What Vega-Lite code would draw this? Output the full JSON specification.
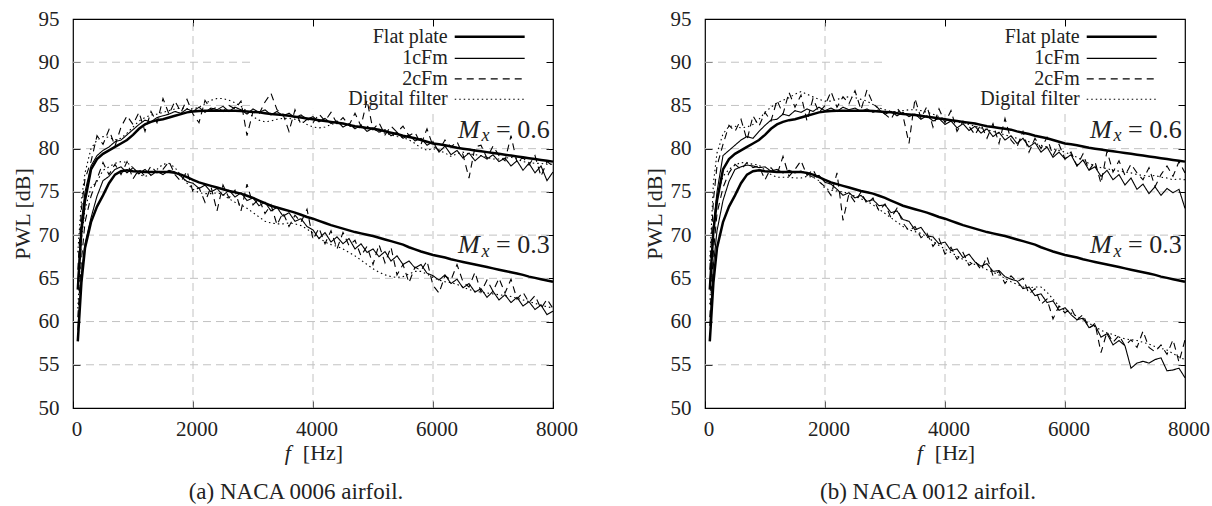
{
"$schema": "https://vega.github.io/schema/vega-lite/v6.json",
"background": "white",
"padding": {"left": 10, "top": 7, "right": 5, "bottom": 5},
"bounds": "flush",
"spacing": 152,
"config": {
  "font": "Liberation Serif",
  "view": {"stroke": "#000", "strokeWidth": 1.2},
  "axis": {"labelFont": "Liberation Serif", "labelFontSize": 21, "labelColor": "#222", "titleFont": "Liberation Serif", "titleFontSize": 22, "titleFontWeight": "normal", "titleColor": "#222", "grid": false, "domain": false, "tickColor": "#000", "tickWidth": 1, "tickSize": -7, "labelFlush": false, "labelOverlap": false, "format": "d"}
},
"datasets": {
"grid": [
{"x1":0,"x2":8000,"y1":55,"y2":55},{"x1":0,"x2":8000,"y1":60,"y2":60},{"x1":0,"x2":8000,"y1":65,"y2":65},{"x1":0,"x2":8000,"y1":70,"y2":70},{"x1":0,"x2":8000,"y1":75,"y2":75},{"x1":0,"x2":8000,"y1":80,"y2":80},{"x1":0,"x2":3000,"y1":85,"y2":85},{"x1":0,"x2":3000,"y1":90,"y2":90},
{"x1":2000,"x2":2000,"y1":50,"y2":95},{"x1":4000,"x2":4000,"y1":50,"y2":84.6},{"x1":6000,"x2":6000,"y1":50,"y2":84.6}
],
"a": [
{"f":80,"t6":63.7,"s6":64.5,"d6":66,"o6":68,"t3":57.7,"s3":59,"d3":60.5,"o3":61.5},
{"f":140,"t6":70.5,"s6":71.5,"d6":73,"o6":74,"t3":64.5,"s3":65.5,"d3":67,"o3":69.5},
{"f":200,"t6":74.0,"s6":75.0,"d6":76.5,"o6":77.2,"t3":68.5,"s3":69,"d3":71.5,"o3":73},
{"f":300,"t6":77.6,"s6":78.0,"d6":78.5,"o6":80.0,"t3":71.5,"s3":72,"d3":74.5,"o3":75.5},
{"f":400,"t6":78.8,"s6":79.2,"d6":81.5,"o6":81.0,"t3":73.3,"s3":74.5,"d3":76.5,"o3":76.2},
{"f":500,"t6":79.4,"s6":79.8,"d6":80.5,"o6":81.4,"t3":74.6,"s3":76.3,"d3":78.4,"o3":77.5},
{"f":600,"t6":79.8,"s6":80.2,"d6":82.2,"o6":81.3,"t3":76.0,"s3":76.8,"d3":77.0,"o3":77.9},
{"f":700,"t6":80.2,"s6":80.8,"d6":80.3,"o6":81.0,"t3":77.0,"s3":77.6,"d3":78.2,"o3":78.3},
{"f":800,"t6":80.6,"s6":81.0,"d6":82.5,"o6":81.2,"t3":77.4,"s3":77.9,"d3":77.0,"o3":78.5},
{"f":900,"t6":81.0,"s6":81.6,"d6":83.8,"o6":81.8,"t3":77.5,"s3":77.2,"d3":78.5,"o3":78.4},
{"f":1000,"t6":81.6,"s6":82.2,"d6":82.8,"o6":82.5,"t3":77.4,"s3":77.8,"d3":76.5,"o3":77.8},
{"f":1100,"t6":82.3,"s6":82.8,"d6":84.2,"o6":83.2,"t3":77.35,"s3":77.1,"d3":77.6,"o3":77.0},
{"f":1200,"t6":82.8,"s6":83.3,"d6":82.0,"o6":83.6,"t3":77.3,"s3":77.6,"d3":76.8,"o3":76.8},
{"f":1300,"t6":83.1,"s6":83.1,"d6":84.3,"o6":83.9,"t3":77.3,"s3":76.9,"d3":78.0,"o3":77.0},
{"f":1400,"t6":83.3,"s6":83.6,"d6":83.0,"o6":84.0,"t3":77.3,"s3":77.4,"d3":77.2,"o3":77.6},
{"f":1500,"t6":83.4,"s6":83.8,"d6":85.8,"o6":84.2,"t3":77.3,"s3":77.0,"d3":77.6,"o3":78.2},
{"f":1600,"t6":83.6,"s6":84.0,"d6":84.0,"o6":84.4,"t3":77.3,"s3":77.5,"d3":78.5,"o3":78.3},
{"f":1700,"t6":83.8,"s6":84.3,"d6":85.5,"o6":84.6,"t3":77.2,"s3":77.3,"d3":77.0,"o3":77.8},
{"f":1800,"t6":84.0,"s6":84.1,"d6":84.2,"o6":84.7,"t3":77.0,"s3":76.8,"d3":76.2,"o3":76.9},
{"f":1900,"t6":84.2,"s6":84.6,"d6":85.7,"o6":84.6,"t3":76.7,"s3":76.2,"d3":77.4,"o3":76.0},
{"f":2000,"t6":84.3,"s6":84.3,"d6":84.0,"o6":84.6,"t3":76.4,"s3":76.0,"d3":75.0,"o3":75.3},
{"f":2100,"t6":84.35,"s6":84.8,"d6":83.0,"o6":84.8,"t3":76.1,"s3":75.4,"d3":75.5,"o3":74.9},
{"f":2200,"t6":84.4,"s6":84.2,"d6":85.6,"o6":85.2,"t3":75.9,"s3":75.8,"d3":73.8,"o3":74.8},
{"f":2300,"t6":84.4,"s6":84.7,"d6":84.5,"o6":85.6,"t3":75.7,"s3":75.0,"d3":75.6,"o3":74.8},
{"f":2400,"t6":84.4,"s6":84.5,"d6":84.8,"o6":85.8,"t3":75.5,"s3":75.4,"d3":72.8,"o3":74.9},
{"f":2500,"t6":84.4,"s6":84.9,"d6":84.3,"o6":85.8,"t3":75.3,"s3":74.6,"d3":75.8,"o3":74.7},
{"f":2600,"t6":84.4,"s6":84.3,"d6":85.0,"o6":85.6,"t3":75.1,"s3":75.2,"d3":74.3,"o3":74.2},
{"f":2700,"t6":84.4,"s6":84.8,"d6":84.6,"o6":85.3,"t3":74.95,"s3":74.4,"d3":75.2,"o3":73.8},
{"f":2800,"t6":84.35,"s6":84.5,"d6":85.5,"o6":84.9,"t3":74.8,"s3":74.9,"d3":72.8,"o3":73.5},
{"f":2900,"t6":84.3,"s6":84.0,"d6":81.5,"o6":84.3,"t3":74.55,"s3":74.0,"d3":75.9,"o3":73.1},
{"f":3000,"t6":84.25,"s6":84.6,"d6":84.3,"o6":83.7,"t3":74.3,"s3":74.3,"d3":73.5,"o3":72.6},
{"f":3100,"t6":84.2,"s6":84.2,"d6":84.0,"o6":83.3,"t3":74.0,"s3":73.4,"d3":74.2,"o3":72.1},
{"f":3200,"t6":84.1,"s6":84.5,"d6":85.4,"o6":83.1,"t3":73.7,"s3":73.8,"d3":72.5,"o3":71.6},
{"f":3300,"t6":84.0,"s6":83.9,"d6":86.4,"o6":83.2,"t3":73.4,"s3":72.8,"d3":73.5,"o3":71.4},
{"f":3400,"t6":83.95,"s6":84.3,"d6":84.5,"o6":83.4,"t3":73.2,"s3":73.2,"d3":71.2,"o3":71.3},
{"f":3500,"t6":83.9,"s6":83.8,"d6":84.0,"o6":83.5,"t3":73.0,"s3":72.2,"d3":72.6,"o3":71.3},
{"f":3600,"t6":83.8,"s6":84.1,"d6":82.0,"o6":83.5,"t3":72.8,"s3":72.6,"d3":71.0,"o3":71.4},
{"f":3700,"t6":83.7,"s6":83.6,"d6":84.5,"o6":83.4,"t3":72.6,"s3":71.6,"d3":72.3,"o3":71.3},
{"f":3800,"t6":83.6,"s6":83.9,"d6":82.8,"o6":83.2,"t3":72.35,"s3":71.9,"d3":71.5,"o3":71.1},
{"f":3900,"t6":83.5,"s6":83.4,"d6":83.4,"o6":82.8,"t3":72.1,"s3":71.0,"d3":73.0,"o3":70.7},
{"f":4000,"t6":83.4,"s6":83.7,"d6":83.0,"o6":82.5,"t3":71.9,"s3":70.6,"d3":69.5,"o3":70.2},
{"f":4100,"t6":83.3,"s6":83.1,"d6":84.0,"o6":82.4,"t3":71.65,"s3":69.6,"d3":70.8,"o3":69.7},
{"f":4200,"t6":83.2,"s6":83.5,"d6":83.2,"o6":82.5,"t3":71.4,"s3":70.3,"d3":69.0,"o3":69.2},
{"f":4300,"t6":83.1,"s6":82.9,"d6":84.2,"o6":82.8,"t3":71.15,"s3":69.2,"d3":70.5,"o3":68.9},
{"f":4400,"t6":83.0,"s6":83.2,"d6":82.9,"o6":83.0,"t3":70.95,"s3":69.8,"d3":68.4,"o3":68.7},
{"f":4500,"t6":82.9,"s6":82.5,"d6":83.6,"o6":82.8,"t3":70.75,"s3":69.0,"d3":70.3,"o3":68.4},
{"f":4600,"t6":82.75,"s6":82.9,"d6":82.7,"o6":82.6,"t3":70.55,"s3":69.6,"d3":68.8,"o3":68.0},
{"f":4700,"t6":82.6,"s6":82.3,"d6":84.1,"o6":82.5,"t3":70.35,"s3":68.4,"d3":69.4,"o3":67.6},
{"f":4800,"t6":82.5,"s6":82.7,"d6":82.6,"o6":82.4,"t3":70.2,"s3":69.0,"d3":67.6,"o3":67.1},
{"f":4900,"t6":82.4,"s6":82.0,"d6":85.6,"o6":82.6,"t3":70.05,"s3":68.0,"d3":68.7,"o3":66.6},
{"f":5000,"t6":82.3,"s6":82.4,"d6":82.2,"o6":82.3,"t3":69.9,"s3":68.4,"d3":66.6,"o3":66.1},
{"f":5100,"t6":82.2,"s6":81.9,"d6":83.0,"o6":82.0,"t3":69.7,"s3":67.5,"d3":68.9,"o3":65.7},
{"f":5200,"t6":82.0,"s6":82.2,"d6":81.6,"o6":81.8,"t3":69.5,"s3":68.1,"d3":66.8,"o3":65.4},
{"f":5300,"t6":81.85,"s6":81.5,"d6":82.6,"o6":81.6,"t3":69.3,"s3":67.0,"d3":68.6,"o3":65.2},
{"f":5400,"t6":81.7,"s6":81.9,"d6":81.9,"o6":81.4,"t3":69.1,"s3":67.6,"d3":65.4,"o3":65.1},
{"f":5500,"t6":81.5,"s6":81.2,"d6":82.6,"o6":81.3,"t3":68.9,"s3":66.6,"d3":66.6,"o3":65.2},
{"f":5600,"t6":81.35,"s6":81.6,"d6":81.5,"o6":81.0,"t3":68.6,"s3":67.0,"d3":64.5,"o3":65.5},
{"f":5700,"t6":81.2,"s6":80.9,"d6":81.9,"o6":80.6,"t3":68.35,"s3":66.2,"d3":66.3,"o3":65.8},
{"f":5800,"t6":81.0,"s6":81.2,"d6":80.5,"o6":80.1,"t3":68.1,"s3":66.6,"d3":65.9,"o3":65.8},
{"f":5900,"t6":80.8,"s6":80.4,"d6":82.3,"o6":79.8,"t3":67.9,"s3":65.6,"d3":67.0,"o3":65.5},
{"f":6000,"t6":80.6,"s6":80.8,"d6":80.3,"o6":80.0,"t3":67.7,"s3":65.3,"d3":64.2,"o3":65.1},
{"f":6100,"t6":80.5,"s6":79.6,"d6":79.8,"o6":79.8,"t3":67.55,"s3":64.8,"d3":63.3,"o3":64.8},
{"f":6200,"t6":80.4,"s6":80.3,"d6":81.0,"o6":79.5,"t3":67.4,"s3":65.4,"d3":65.3,"o3":64.6},
{"f":6300,"t6":80.25,"s6":79.3,"d6":80.2,"o6":79.1,"t3":67.2,"s3":64.4,"d3":64.8,"o3":64.5},
{"f":6400,"t6":80.1,"s6":79.8,"d6":80.8,"o6":79.4,"t3":67.05,"s3":64.9,"d3":66.6,"o3":64.3},
{"f":6500,"t6":80.0,"s6":78.9,"d6":79.3,"o6":79.6,"t3":66.9,"s3":63.9,"d3":64.6,"o3":64.0},
{"f":6600,"t6":79.9,"s6":79.5,"d6":76.6,"o6":79.4,"t3":66.75,"s3":64.4,"d3":64.0,"o3":63.7},
{"f":6700,"t6":79.8,"s6":78.6,"d6":80.2,"o6":79.3,"t3":66.6,"s3":63.4,"d3":65.7,"o3":63.5},
{"f":6800,"t6":79.7,"s6":79.2,"d6":80.4,"o6":79.2,"t3":66.45,"s3":63.8,"d3":63.4,"o3":63.4},
{"f":6900,"t6":79.6,"s6":78.8,"d6":78.9,"o6":79.0,"t3":66.3,"s3":62.8,"d3":64.8,"o3":63.3},
{"f":7000,"t6":79.5,"s6":79.3,"d6":80.3,"o6":78.8,"t3":66.15,"s3":63.5,"d3":63.5,"o3":63.2},
{"f":7100,"t6":79.4,"s6":78.5,"d6":79.2,"o6":78.8,"t3":66.0,"s3":62.5,"d3":65.0,"o3":63.1},
{"f":7200,"t6":79.3,"s6":78.9,"d6":78.6,"o6":78.9,"t3":65.85,"s3":63.1,"d3":63.3,"o3":63.0},
{"f":7300,"t6":79.2,"s6":78.0,"d6":81.5,"o6":79.0,"t3":65.7,"s3":62.2,"d3":64.9,"o3":62.9},
{"f":7400,"t6":79.1,"s6":78.6,"d6":78.4,"o6":78.8,"t3":65.55,"s3":62.8,"d3":62.6,"o3":62.7},
{"f":7500,"t6":79.0,"s6":77.5,"d6":79.0,"o6":78.5,"t3":65.4,"s3":61.8,"d3":63.4,"o3":62.5},
{"f":7600,"t6":78.9,"s6":78.3,"d6":78.1,"o6":78.4,"t3":65.2,"s3":62.3,"d3":62.2,"o3":62.3},
{"f":7700,"t6":78.8,"s6":77.2,"d6":79.2,"o6":78.3,"t3":65.05,"s3":61.4,"d3":63.0,"o3":62.1},
{"f":7800,"t6":78.7,"s6":78.0,"d6":76.8,"o6":78.3,"t3":64.9,"s3":61.9,"d3":61.5,"o3":61.9},
{"f":7900,"t6":78.6,"s6":76.3,"d6":78.5,"o6":78.2,"t3":64.75,"s3":60.8,"d3":62.6,"o3":61.7},
{"f":8000,"t6":78.5,"s6":77.3,"d6":78.0,"o6":78.2,"t3":64.6,"s3":61.2,"d3":61.5,"o3":61.6}
],
"b": [
{"f":80,"t6":63.7,"s6":64,"d6":66,"o6":67,"t3":57.7,"s3":59.5,"d3":60.5,"o3":62},
{"f":140,"t6":70.5,"s6":71,"d6":74,"o6":76,"t3":64.5,"s3":66.5,"d3":68,"o3":71},
{"f":200,"t6":74.0,"s6":75,"d6":78,"o6":79.5,"t3":68.5,"s3":70.5,"d3":72.5,"o3":74.5},
{"f":300,"t6":77.6,"s6":79.2,"d6":80.5,"o6":81.7,"t3":71.5,"s3":74.0,"d3":75.5,"o3":76.8},
{"f":400,"t6":78.8,"s6":79.8,"d6":82.7,"o6":82.6,"t3":73.3,"s3":76.2,"d3":77.2,"o3":77.6},
{"f":500,"t6":79.4,"s6":80.4,"d6":82.0,"o6":82.6,"t3":74.6,"s3":77.6,"d3":78.2,"o3":78.1},
{"f":600,"t6":79.8,"s6":81.0,"d6":83.4,"o6":82.4,"t3":76.0,"s3":77.9,"d3":77.6,"o3":78.4},
{"f":700,"t6":80.2,"s6":81.4,"d6":81.0,"o6":82.5,"t3":77.0,"s3":78.1,"d3":78.4,"o3":78.3},
{"f":800,"t6":80.6,"s6":81.2,"d6":83.8,"o6":82.8,"t3":77.4,"s3":78.0,"d3":77.8,"o3":78.2},
{"f":900,"t6":81.0,"s6":82.0,"d6":82.6,"o6":83.4,"t3":77.5,"s3":77.8,"d3":78.0,"o3":78.1},
{"f":1000,"t6":81.6,"s6":82.7,"d6":84.2,"o6":84.2,"t3":77.4,"s3":77.9,"d3":76.4,"o3":77.5},
{"f":1100,"t6":82.3,"s6":83.3,"d6":83.2,"o6":84.8,"t3":77.35,"s3":77.4,"d3":77.8,"o3":77.0},
{"f":1200,"t6":82.8,"s6":83.4,"d6":85.6,"o6":85.3,"t3":77.3,"s3":77.6,"d3":77.0,"o3":76.7},
{"f":1300,"t6":83.1,"s6":84.0,"d6":84.0,"o6":85.6,"t3":77.3,"s3":77.2,"d3":79.1,"o3":76.7},
{"f":1400,"t6":83.3,"s6":83.8,"d6":86.5,"o6":85.9,"t3":77.3,"s3":77.5,"d3":76.8,"o3":76.7},
{"f":1500,"t6":83.4,"s6":84.4,"d6":84.8,"o6":86.3,"t3":77.3,"s3":77.2,"d3":77.6,"o3":76.6},
{"f":1600,"t6":83.6,"s6":84.2,"d6":86.2,"o6":86.6,"t3":77.3,"s3":77.4,"d3":78.6,"o3":76.6},
{"f":1700,"t6":83.8,"s6":84.6,"d6":83.2,"o6":86.3,"t3":77.2,"s3":77.1,"d3":76.9,"o3":76.8},
{"f":1800,"t6":84.0,"s6":84.3,"d6":85.8,"o6":86.0,"t3":77.0,"s3":76.7,"d3":77.6,"o3":76.7},
{"f":1900,"t6":84.2,"s6":84.8,"d6":84.2,"o6":85.7,"t3":76.7,"s3":76.9,"d3":76.2,"o3":76.3},
{"f":2000,"t6":84.3,"s6":84.4,"d6":85.0,"o6":85.5,"t3":76.4,"s3":76.1,"d3":75.6,"o3":75.4},
{"f":2100,"t6":84.35,"s6":84.7,"d6":86.6,"o6":85.5,"t3":76.1,"s3":75.9,"d3":74.6,"o3":75.2},
{"f":2200,"t6":84.4,"s6":84.3,"d6":84.8,"o6":85.7,"t3":75.9,"s3":75.3,"d3":77.2,"o3":75.1},
{"f":2300,"t6":84.4,"s6":84.8,"d6":86.0,"o6":85.9,"t3":75.7,"s3":74.6,"d3":71.7,"o3":75.0},
{"f":2400,"t6":84.4,"s6":84.5,"d6":85.2,"o6":86.0,"t3":75.5,"s3":74.9,"d3":74.8,"o3":74.8},
{"f":2500,"t6":84.4,"s6":84.7,"d6":86.7,"o6":85.9,"t3":75.3,"s3":74.3,"d3":73.8,"o3":74.5},
{"f":2600,"t6":84.4,"s6":84.3,"d6":84.5,"o6":85.7,"t3":75.1,"s3":74.6,"d3":75.0,"o3":74.2},
{"f":2700,"t6":84.4,"s6":84.6,"d6":86.8,"o6":85.5,"t3":74.95,"s3":73.9,"d3":73.6,"o3":73.9},
{"f":2800,"t6":84.35,"s6":84.2,"d6":85.2,"o6":85.1,"t3":74.8,"s3":74.1,"d3":74.3,"o3":73.5},
{"f":2900,"t6":84.3,"s6":84.5,"d6":84.6,"o6":84.7,"t3":74.55,"s3":73.4,"d3":72.8,"o3":73.0},
{"f":3000,"t6":84.25,"s6":84.0,"d6":84.0,"o6":84.5,"t3":74.3,"s3":73.5,"d3":73.6,"o3":72.5},
{"f":3100,"t6":84.2,"s6":84.3,"d6":83.4,"o6":84.3,"t3":74.0,"s3":72.6,"d3":72.0,"o3":72.0},
{"f":3200,"t6":84.1,"s6":83.8,"d6":84.7,"o6":84.3,"t3":73.7,"s3":72.8,"d3":73.1,"o3":71.5},
{"f":3300,"t6":84.0,"s6":84.2,"d6":83.8,"o6":84.4,"t3":73.4,"s3":71.8,"d3":71.4,"o3":71.0},
{"f":3400,"t6":83.95,"s6":83.7,"d6":80.6,"o6":84.5,"t3":73.2,"s3":71.6,"d3":70.5,"o3":70.6},
{"f":3500,"t6":83.9,"s6":84.0,"d6":85.8,"o6":84.5,"t3":73.0,"s3":70.6,"d3":71.0,"o3":70.4},
{"f":3600,"t6":83.8,"s6":83.4,"d6":83.5,"o6":84.4,"t3":72.8,"s3":70.9,"d3":69.7,"o3":70.2},
{"f":3700,"t6":83.7,"s6":83.8,"d6":84.9,"o6":84.2,"t3":72.6,"s3":69.9,"d3":70.2,"o3":69.8},
{"f":3800,"t6":83.6,"s6":83.2,"d6":82.5,"o6":84.0,"t3":72.35,"s3":69.8,"d3":68.7,"o3":69.3},
{"f":3900,"t6":83.5,"s6":83.5,"d6":84.6,"o6":83.7,"t3":72.1,"s3":69.0,"d3":69.6,"o3":68.8},
{"f":4000,"t6":83.4,"s6":82.8,"d6":83.0,"o6":83.4,"t3":71.9,"s3":69.2,"d3":67.8,"o3":68.4},
{"f":4100,"t6":83.3,"s6":83.2,"d6":84.4,"o6":83.2,"t3":71.65,"s3":68.2,"d3":68.6,"o3":68.0},
{"f":4200,"t6":83.2,"s6":82.4,"d6":82.0,"o6":83.1,"t3":71.4,"s3":68.4,"d3":67.2,"o3":67.6},
{"f":4300,"t6":83.1,"s6":82.9,"d6":83.2,"o6":83.0,"t3":71.15,"s3":67.4,"d3":68.0,"o3":67.2},
{"f":4400,"t6":83.0,"s6":82.1,"d6":82.6,"o6":82.8,"t3":70.95,"s3":67.8,"d3":66.5,"o3":66.9},
{"f":4500,"t6":82.9,"s6":82.6,"d6":81.6,"o6":82.6,"t3":70.75,"s3":66.9,"d3":67.0,"o3":66.6},
{"f":4600,"t6":82.75,"s6":81.8,"d6":82.8,"o6":82.4,"t3":70.55,"s3":66.4,"d3":66.0,"o3":66.3},
{"f":4700,"t6":82.6,"s6":82.3,"d6":81.2,"o6":82.2,"t3":70.35,"s3":66.7,"d3":67.5,"o3":66.0},
{"f":4800,"t6":82.5,"s6":81.4,"d6":82.9,"o6":82.0,"t3":70.2,"s3":65.8,"d3":65.3,"o3":65.7},
{"f":4900,"t6":82.4,"s6":81.9,"d6":80.6,"o6":81.8,"t3":70.05,"s3":65.9,"d3":65.8,"o3":65.4},
{"f":5000,"t6":82.3,"s6":81.0,"d6":83.5,"o6":81.6,"t3":69.9,"s3":65.2,"d3":64.4,"o3":65.0},
{"f":5100,"t6":82.2,"s6":81.5,"d6":81.0,"o6":81.4,"t3":69.7,"s3":64.9,"d3":65.3,"o3":64.6},
{"f":5200,"t6":82.0,"s6":80.6,"d6":80.2,"o6":81.2,"t3":69.5,"s3":64.7,"d3":64.6,"o3":64.3},
{"f":5300,"t6":81.85,"s6":81.2,"d6":82.0,"o6":81.0,"t3":69.3,"s3":63.8,"d3":65.0,"o3":64.0},
{"f":5400,"t6":81.7,"s6":80.2,"d6":79.6,"o6":80.8,"t3":69.1,"s3":64.0,"d3":63.2,"o3":63.9},
{"f":5500,"t6":81.5,"s6":80.7,"d6":81.2,"o6":80.6,"t3":68.9,"s3":63.0,"d3":63.8,"o3":64.0},
{"f":5600,"t6":81.35,"s6":79.6,"d6":80.0,"o6":80.4,"t3":68.6,"s3":63.2,"d3":62.0,"o3":64.0},
{"f":5700,"t6":81.2,"s6":80.2,"d6":81.3,"o6":80.2,"t3":68.35,"s3":62.2,"d3":62.6,"o3":63.4},
{"f":5800,"t6":81.0,"s6":79.0,"d6":79.2,"o6":80.0,"t3":68.1,"s3":62.4,"d3":60.3,"o3":62.6},
{"f":5900,"t6":80.8,"s6":79.6,"d6":80.5,"o6":79.8,"t3":67.9,"s3":61.3,"d3":61.8,"o3":61.8},
{"f":6000,"t6":80.6,"s6":78.8,"d6":78.8,"o6":79.6,"t3":67.7,"s3":61.6,"d3":61.0,"o3":61.3},
{"f":6100,"t6":80.5,"s6":79.3,"d6":79.6,"o6":79.3,"t3":67.55,"s3":60.8,"d3":61.6,"o3":61.0},
{"f":6200,"t6":80.4,"s6":78.0,"d6":78.0,"o6":79.0,"t3":67.4,"s3":60.2,"d3":60.2,"o3":60.6},
{"f":6300,"t6":80.25,"s6":78.7,"d6":79.4,"o6":78.6,"t3":67.2,"s3":60.4,"d3":60.8,"o3":60.2},
{"f":6400,"t6":80.1,"s6":77.5,"d6":77.5,"o6":78.3,"t3":67.05,"s3":59.3,"d3":59.2,"o3":59.8},
{"f":6500,"t6":80.0,"s6":77.9,"d6":78.5,"o6":78.0,"t3":66.9,"s3":59.6,"d3":59.8,"o3":59.4},
{"f":6600,"t6":79.9,"s6":76.8,"d6":76.0,"o6":77.8,"t3":66.75,"s3":58.2,"d3":56.4,"o3":59.0},
{"f":6700,"t6":79.8,"s6":77.5,"d6":79.7,"o6":77.7,"t3":66.6,"s3":58.6,"d3":58.8,"o3":58.7},
{"f":6800,"t6":79.7,"s6":76.4,"d6":77.3,"o6":77.5,"t3":66.45,"s3":57.3,"d3":57.6,"o3":58.5},
{"f":6900,"t6":79.6,"s6":77.0,"d6":78.6,"o6":77.4,"t3":66.3,"s3":57.8,"d3":58.4,"o3":58.2},
{"f":7000,"t6":79.5,"s6":75.8,"d6":76.9,"o6":77.3,"t3":66.15,"s3":57.2,"d3":57.2,"o3":58.0},
{"f":7100,"t6":79.4,"s6":76.6,"d6":78.2,"o6":77.2,"t3":66.0,"s3":54.6,"d3":57.9,"o3":57.9},
{"f":7200,"t6":79.3,"s6":75.3,"d6":77.2,"o6":77.0,"t3":65.85,"s3":55.2,"d3":57.0,"o3":57.8},
{"f":7300,"t6":79.2,"s6":75.9,"d6":76.4,"o6":76.9,"t3":65.7,"s3":55.4,"d3":58.9,"o3":57.6},
{"f":7400,"t6":79.1,"s6":74.8,"d6":77.8,"o6":76.8,"t3":65.55,"s3":55.2,"d3":57.0,"o3":57.4},
{"f":7500,"t6":79.0,"s6":75.6,"d6":75.6,"o6":76.9,"t3":65.4,"s3":55.6,"d3":56.5,"o3":57.1},
{"f":7600,"t6":78.9,"s6":74.6,"d6":77.0,"o6":76.7,"t3":65.2,"s3":55.8,"d3":57.3,"o3":56.9},
{"f":7700,"t6":78.8,"s6":75.4,"d6":78.0,"o6":76.6,"t3":65.05,"s3":54.3,"d3":56.2,"o3":56.7},
{"f":7800,"t6":78.7,"s6":74.9,"d6":76.8,"o6":76.4,"t3":64.9,"s3":54.4,"d3":57.9,"o3":56.3},
{"f":7900,"t6":78.6,"s6":75.3,"d6":78.5,"o6":76.5,"t3":64.75,"s3":54.6,"d3":55.3,"o3":55.9},
{"f":8000,"t6":78.5,"s6":73.1,"d6":77.2,"o6":76.4,"t3":64.6,"s3":53.5,"d3":57.9,"o3":55.6}
],
"legText": [
{"f":6245,"v":92.96,"t":"Flat plate"},{"f":6245,"v":90.45,"t":"1cFm"},{"f":6245,"v":88.07,"t":"2cFm"},{"f":6245,"v":85.71,"t":"Digital filter"}
],
"legThick": [{"x1":6362,"x2":7528,"v":92.96,"key":"t6"}],
"legThin": [
{"x1":6362,"x2":7528,"v":90.45,"key":"s6"},{"x1":6362,"x2":7528,"v":88.07,"key":"d6"},{"x1":6362,"x2":7528,"v":85.71,"key":"o6"}
],
"machM": [{"f":6417,"v":82.2},{"f":6417,"v":68.85}],
"machX": [{"f":6807,"v":81.45},{"f":6807,"v":68.1}],
"machV": [{"f":7945,"v":82.2,"t":"= 0.6"},{"f":7945,"v":68.85,"t":"= 0.3"}],
"xtF": [{"f":3580,"v":44.78}],
"xtHz": [{"f":3830,"v":44.78}]
},
"hconcat": [
{
 "width": 480, "height": 389,
 "title": {"text": "(a) NACA 0006 airfoil.", "orient": "bottom", "anchor": "middle", "frame": "group", "dx": -17, "offset": 17, "fontSize": 23, "font": "Liberation Serif", "fontWeight": "normal", "color": "#222"},
 "resolve": {"axis": {"x": "independent", "y": "independent"}},
 "layer": [
  {"data": {"name": "grid"}, "mark": {"type": "rule", "color": "#c2c2c2", "strokeWidth": 1, "strokeDash": [8, 5]},
   "encoding": {"x": {"field": "x1", "type": "quantitative", "scale": {"domain": [0, 8000]}, "axis": null}, "x2": {"field": "x2"}, "y": {"field": "y1", "type": "quantitative", "scale": {"domain": [50, 95]}, "axis": null}, "y2": {"field": "y2"}}},
  {"data": {"name": "a"}, "transform": [{"fold": ["s6", "d6", "o6", "s3", "d3", "o3"], "as": ["key", "val"]}],
   "mark": {"type": "line", "color": "#000", "strokeWidth": 1.1},
   "encoding": {
    "x": {"field": "f", "type": "quantitative", "scale": {"domain": [0, 8000]}, "axis": {"orient": "bottom", "values": [0, 2000, 4000, 6000, 8000], "title": null, "labelPadding": 17, "labelOffset": 3.5}},
    "y": {"field": "val", "type": "quantitative", "scale": {"domain": [50, 95]}, "axis": {"orient": "left", "values": [50, 55, 60, 65, 70, 75, 80, 85, 90, 95], "title": "PWL [dB]", "labelPadding": 21, "titlePadding": 4}},
    "strokeDash": {"field": "key", "type": "nominal", "scale": {"domain": ["s6", "s3", "d6", "d3", "o6", "o3"], "range": [[1, 0], [1, 0], [7, 5], [7, 5], [1.5, 3], [1.5, 3]]}, "legend": null}}},
  {"data": {"name": "a"}, "transform": [{"fold": ["t6", "t3"], "as": ["key", "val"]}],
   "mark": {"type": "line", "color": "#000", "strokeWidth": 2.5},
   "encoding": {
    "x": {"field": "f", "type": "quantitative", "axis": {"orient": "top", "values": [2000, 4000, 6000], "labels": false, "title": null}},
    "y": {"field": "val", "type": "quantitative", "axis": {"orient": "right", "values": [55, 60, 65, 70, 75, 80, 85, 90], "labels": false, "title": null}},
    "detail": {"field": "key"}}},
  {"data": {"name": "legThick"}, "mark": {"type": "rule", "color": "#000", "strokeWidth": 2.5},
   "encoding": {"x": {"field": "x1", "type": "quantitative", "axis": null}, "x2": {"field": "x2"}, "y": {"field": "v", "type": "quantitative", "axis": null}}},
  {"data": {"name": "legThin"}, "mark": {"type": "rule", "color": "#000", "strokeWidth": 1.1},
   "encoding": {"x": {"field": "x1", "type": "quantitative", "axis": null}, "x2": {"field": "x2"}, "y": {"field": "v", "type": "quantitative", "axis": null},
    "strokeDash": {"field": "key", "type": "nominal", "scale": {"domain": ["s6", "s3", "d6", "d3", "o6", "o3"], "range": [[1, 0], [1, 0], [7, 5], [7, 5], [1.5, 3], [1.5, 3]]}, "legend": null}}},
  {"data": {"name": "legText"}, "mark": {"type": "text", "align": "right", "baseline": "middle", "fontSize": 20, "font": "Liberation Serif", "color": "#222"},
   "encoding": {"x": {"field": "f", "type": "quantitative", "axis": null}, "y": {"field": "v", "type": "quantitative", "axis": null}, "text": {"field": "t"}}},
  {"data": {"name": "machM"}, "mark": {"type": "text", "align": "left", "baseline": "middle", "fontSize": 26, "fontStyle": "italic", "font": "Liberation Serif", "color": "#222", "text": "M"},
   "encoding": {"x": {"field": "f", "type": "quantitative", "axis": null}, "y": {"field": "v", "type": "quantitative", "axis": null}}},
  {"data": {"name": "machX"}, "mark": {"type": "text", "align": "left", "baseline": "middle", "fontSize": 18, "fontStyle": "italic", "font": "Liberation Serif", "color": "#222", "text": "x"},
   "encoding": {"x": {"field": "f", "type": "quantitative", "axis": null}, "y": {"field": "v", "type": "quantitative", "axis": null}}},
  {"data": {"name": "machV"}, "mark": {"type": "text", "align": "right", "baseline": "middle", "fontSize": 26, "font": "Liberation Serif", "color": "#222"},
   "encoding": {"x": {"field": "f", "type": "quantitative", "axis": null}, "y": {"field": "v", "type": "quantitative", "axis": null}, "text": {"field": "t"}}},
  {"data": {"name": "xtF"}, "mark": {"type": "text", "align": "center", "baseline": "middle", "fontSize": 22, "fontStyle": "italic", "font": "Liberation Serif", "color": "#222", "text": "f"},
   "encoding": {"x": {"field": "f", "type": "quantitative", "axis": null}, "y": {"field": "v", "type": "quantitative", "axis": null}}},
  {"data": {"name": "xtHz"}, "mark": {"type": "text", "align": "left", "baseline": "middle", "fontSize": 22, "font": "Liberation Serif", "color": "#222", "text": "[Hz]"},
   "encoding": {"x": {"field": "f", "type": "quantitative", "axis": null}, "y": {"field": "v", "type": "quantitative", "axis": null}}}
 ]
},
{
 "width": 480, "height": 389,
 "title": {"text": "(b) NACA 0012 airfoil.", "orient": "bottom", "anchor": "middle", "frame": "group", "dx": -17, "offset": 17, "fontSize": 23, "font": "Liberation Serif", "fontWeight": "normal", "color": "#222"},
 "resolve": {"axis": {"x": "independent", "y": "independent"}},
 "layer": [
  {"data": {"name": "grid"}, "mark": {"type": "rule", "color": "#c2c2c2", "strokeWidth": 1, "strokeDash": [8, 5]},
   "encoding": {"x": {"field": "x1", "type": "quantitative", "scale": {"domain": [0, 8000]}, "axis": null}, "x2": {"field": "x2"}, "y": {"field": "y1", "type": "quantitative", "scale": {"domain": [50, 95]}, "axis": null}, "y2": {"field": "y2"}}},
  {"data": {"name": "b"}, "transform": [{"fold": ["s6", "d6", "o6", "s3", "d3", "o3"], "as": ["key", "val"]}],
   "mark": {"type": "line", "color": "#000", "strokeWidth": 1.1},
   "encoding": {
    "x": {"field": "f", "type": "quantitative", "scale": {"domain": [0, 8000]}, "axis": {"orient": "bottom", "values": [0, 2000, 4000, 6000, 8000], "title": null, "labelPadding": 17, "labelOffset": 3.5}},
    "y": {"field": "val", "type": "quantitative", "scale": {"domain": [50, 95]}, "axis": {"orient": "left", "values": [50, 55, 60, 65, 70, 75, 80, 85, 90, 95], "title": "PWL [dB]", "labelPadding": 21, "titlePadding": 4}},
    "strokeDash": {"field": "key", "type": "nominal", "scale": {"domain": ["s6", "s3", "d6", "d3", "o6", "o3"], "range": [[1, 0], [1, 0], [7, 5], [7, 5], [1.5, 3], [1.5, 3]]}, "legend": null}}},
  {"data": {"name": "b"}, "transform": [{"fold": ["t6", "t3"], "as": ["key", "val"]}],
   "mark": {"type": "line", "color": "#000", "strokeWidth": 2.5},
   "encoding": {
    "x": {"field": "f", "type": "quantitative", "axis": {"orient": "top", "values": [2000, 4000, 6000], "labels": false, "title": null}},
    "y": {"field": "val", "type": "quantitative", "axis": {"orient": "right", "values": [55, 60, 65, 70, 75, 80, 85, 90], "labels": false, "title": null}},
    "detail": {"field": "key"}}},
  {"data": {"name": "legThick"}, "mark": {"type": "rule", "color": "#000", "strokeWidth": 2.5},
   "encoding": {"x": {"field": "x1", "type": "quantitative", "axis": null}, "x2": {"field": "x2"}, "y": {"field": "v", "type": "quantitative", "axis": null}}},
  {"data": {"name": "legThin"}, "mark": {"type": "rule", "color": "#000", "strokeWidth": 1.1},
   "encoding": {"x": {"field": "x1", "type": "quantitative", "axis": null}, "x2": {"field": "x2"}, "y": {"field": "v", "type": "quantitative", "axis": null},
    "strokeDash": {"field": "key", "type": "nominal", "scale": {"domain": ["s6", "s3", "d6", "d3", "o6", "o3"], "range": [[1, 0], [1, 0], [7, 5], [7, 5], [1.5, 3], [1.5, 3]]}, "legend": null}}},
  {"data": {"name": "legText"}, "mark": {"type": "text", "align": "right", "baseline": "middle", "fontSize": 20, "font": "Liberation Serif", "color": "#222"},
   "encoding": {"x": {"field": "f", "type": "quantitative", "axis": null}, "y": {"field": "v", "type": "quantitative", "axis": null}, "text": {"field": "t"}}},
  {"data": {"name": "machM"}, "mark": {"type": "text", "align": "left", "baseline": "middle", "fontSize": 26, "fontStyle": "italic", "font": "Liberation Serif", "color": "#222", "text": "M"},
   "encoding": {"x": {"field": "f", "type": "quantitative", "axis": null}, "y": {"field": "v", "type": "quantitative", "axis": null}}},
  {"data": {"name": "machX"}, "mark": {"type": "text", "align": "left", "baseline": "middle", "fontSize": 18, "fontStyle": "italic", "font": "Liberation Serif", "color": "#222", "text": "x"},
   "encoding": {"x": {"field": "f", "type": "quantitative", "axis": null}, "y": {"field": "v", "type": "quantitative", "axis": null}}},
  {"data": {"name": "machV"}, "mark": {"type": "text", "align": "right", "baseline": "middle", "fontSize": 26, "font": "Liberation Serif", "color": "#222"},
   "encoding": {"x": {"field": "f", "type": "quantitative", "axis": null}, "y": {"field": "v", "type": "quantitative", "axis": null}, "text": {"field": "t"}}},
  {"data": {"name": "xtF"}, "mark": {"type": "text", "align": "center", "baseline": "middle", "fontSize": 22, "fontStyle": "italic", "font": "Liberation Serif", "color": "#222", "text": "f"},
   "encoding": {"x": {"field": "f", "type": "quantitative", "axis": null}, "y": {"field": "v", "type": "quantitative", "axis": null}}},
  {"data": {"name": "xtHz"}, "mark": {"type": "text", "align": "left", "baseline": "middle", "fontSize": 22, "font": "Liberation Serif", "color": "#222", "text": "[Hz]"},
   "encoding": {"x": {"field": "f", "type": "quantitative", "axis": null}, "y": {"field": "v", "type": "quantitative", "axis": null}}}
 ]
}
]
}
